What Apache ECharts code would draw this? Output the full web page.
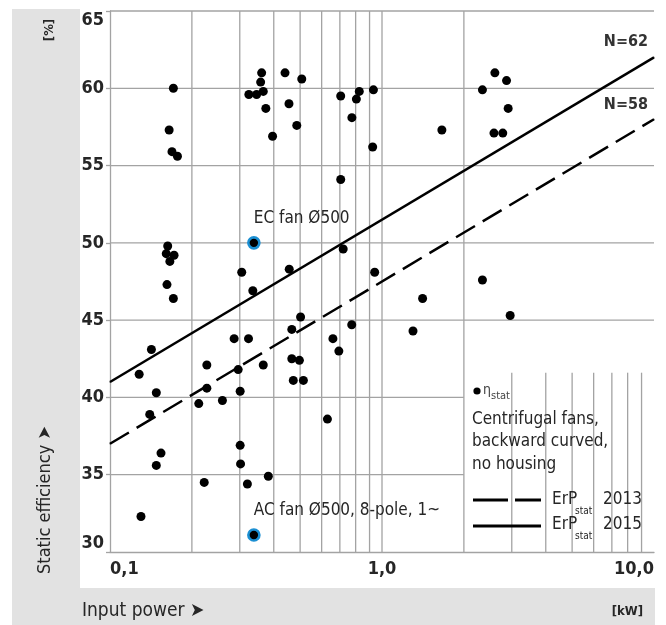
<!DOCTYPE html>
<html><head><meta charset="utf-8">
<script src="https://cdn.jsdelivr.net/npm/echarts@6/dist/echarts.min.js"></script>
<style>html,body{margin:0;padding:0;background:#fff}#c{width:666px;height:625px}</style>
</head><body><div id="c"></div>
<script>
// ---------- data ----------
const fanPower = [
  0.128, 0.142, 0.140, 0.148, 0.154, 0.148, 0.130,
  0.171, 0.165, 0.169, 0.177,
  0.163, 0.161, 0.172, 0.166, 0.162, 0.171,
  0.212, 0.222, 0.227, 0.227, 0.259, 0.286, 0.296, 0.301, 0.301, 0.302, 0.305, 0.320, 0.323, 0.335, 0.366, 0.382,
  0.324, 0.346, 0.358, 0.361, 0.366, 0.374, 0.396, 0.440, 0.455, 0.486, 0.507,
  0.456, 0.466, 0.502, 0.466, 0.497, 0.472, 0.514,
  0.630, 0.660, 0.694, 0.705, 0.720, 0.774, 0.705, 0.775, 0.805, 0.825, 0.930, 0.924, 0.940,
  1.30, 1.41, 1.66, 2.34, 2.34, 2.60, 2.87, 2.91, 2.58, 2.78, 2.96
];
const fanEfficiency = [
  41.5, 43.1, 38.9, 40.3, 36.4, 35.6, 32.3,
  60.0, 57.3, 55.9, 55.6,
  49.8, 49.3, 49.2, 48.8, 47.3, 46.4,
  39.6, 34.5, 42.1, 40.6, 39.8, 43.8, 41.8, 40.4, 36.9, 35.7, 48.1, 34.4, 43.8, 46.9, 42.1, 34.9,
  59.6, 59.6, 60.4, 61.0, 59.8, 58.7, 56.9, 61.0, 59.0, 57.6, 60.6,
  48.3, 44.4, 45.2, 42.5, 42.4, 41.1, 41.1,
  38.6, 43.8, 43.0, 54.1, 49.6, 44.7, 59.5, 58.1, 59.3, 59.8, 59.9, 56.2, 48.1,
  44.3, 46.4, 57.3, 59.9, 47.6, 61.0, 60.5, 58.7, 57.1, 57.1, 45.3
];
const specialPower = [0.338, 0.338];
const specialEfficiency = [50.0, 31.1];
const specialLabels = ['EC fan Ø500', 'AC fan Ø500, 8-pole, 1~'];

const erpPower = [0.1, 10];
const erp2013 = [37, 58];
const erp2015 = [41, 62];
const erpEndLabels = ['N=58', 'N=62'];

const xMin = 0.1, xMax = 10;
const yMin = 30, yMax = 65, yStep = 5;
const xMinorGrid = [0.2, 0.3, 0.4, 0.5, 0.6, 0.7, 0.8, 0.9, 1, 2, 3, 4, 5, 6, 7, 8, 9];
const yGrid = [35, 40, 45, 50, 55, 60, 65];
// legend box (covers grid) corner in data units
const boxPower = 2, boxEfficiency = 41.6;

// ---------- style ----------
const FONT = "'DejaVu Sans Condensed','Liberation Sans Narrow','Roboto Condensed','DejaVu Sans',sans-serif";
const GRID_COLOR = '#a3a3a3';
const TXT = '#262626';

const chart = echarts.init(document.getElementById('c'), null, {renderer: 'canvas'});

function fmtX(v) {
  const r = Math.round(v * 1000) / 1000;
  return r.toFixed(1).replace('.', ',');
}

function endPoint(xs, ys, label) {
  return xs.map((x, i) => i === xs.length - 1
    ? {value: [x, ys[i]], label: {show: true, formatter: label}}
    : {value: [x, ys[i]]});
}

const legendTexts = [];
function t(x, y, text, size, opts) {
  legendTexts.push(Object.assign({
    type: 'text', x: x, y: y, z: 20, silent: true,
    style: Object.assign({text: text, font: (opts && opts.weight ? opts.weight + ' ' : '') + size + 'px ' + FONT,
      fill: TXT, align: 'left', verticalAlign: 'middle'}, opts && opts.style)
  }, opts && opts.el));
}
// legend block
t(483, 390, 'η', 14, {style: {fill: '#444'}});
t(491, 396, 'stat', 11, {style: {fill: '#444'}});
t(472, 420, 'Centrifugal fans,', 17);
t(472, 442, 'backward curved,', 17);
t(472, 465, 'no housing', 17);
t(552, 500, 'ErP', 17);
t(575, 511, 'stat', 10);
t(603, 500, '2013', 17);
t(552, 525, 'ErP', 17);
t(575, 536, 'stat', 10);
t(603, 525, '2015', 17);
// axis titles
t(82, 611, 'Input power ➤', 19);
t(643, 612, '[kW]', 13, {weight: 'bold', style: {align: 'right'}});
t(45, 500, 'Static efficiency ➤', 18, {style: {align: 'center'}, el: {rotation: Math.PI / 2}});
t(50, 30, '[%]', 13, {weight: 'bold', style: {align: 'center'}, el: {rotation: Math.PI / 2}});

const option = {
  animation: false,
  grid: {left: 110, right: 12, top: 11, bottom: 73, containLabel: false},
  xAxis: {
    type: 'log', logBase: 10, min: xMin, max: xMax,
    axisLine: {show: true, lineStyle: {color: GRID_COLOR, width: 1.3}},
    axisTick: {show: false},
    splitLine: {show: false},
    minorTick: {show: false},
    axisLabel: {
      formatter: fmtX, margin: 8, color: TXT, fontSize: 18, fontWeight: 'bold', fontFamily: FONT,
      alignMinLabel: 'left', alignMaxLabel: 'right', showMinLabel: true, showMaxLabel: true
    }
  },
  yAxis: {
    type: 'value', min: yMin, max: yMax, interval: yStep,
    axisLine: {show: true, lineStyle: {color: GRID_COLOR, width: 1.3}},
    axisTick: {show: true, length: 4, lineStyle: {color: GRID_COLOR, width: 1.3}},
    splitLine: {show: false},
    axisLabel: {
      margin: 6, color: TXT, fontSize: 18, fontWeight: 'bold', fontFamily: FONT,
      verticalAlignMinLabel: 'bottom', verticalAlignMaxLabel: 'top'
    }
  },
  graphic: [
    {type: 'rect', silent: true, z: -10, shape: {x: 12, y: 9, width: 643, height: 616}, style: {fill: '#e2e2e2'}},
    {type: 'rect', silent: true, z: -9, shape: {x: 80, y: 0, width: 575, height: 588}, style: {fill: '#ffffff'}},
    {type: 'rect', silent: true, z: 100, shape: {x: 655, y: 0, width: 11, height: 625}, style: {fill: '#ffffff'}},
    {type: 'circle', silent: true, z: 20, shape: {cx: 477, cy: 391, r: 3.6}, style: {fill: '#000'}},
    {type: 'line', silent: true, z: 20, shape: {x1: 473, y1: 500, x2: 508, y2: 500}, style: {stroke: '#000', lineWidth: 3}},
    {type: 'line', silent: true, z: 20, shape: {x1: 515, y1: 500, x2: 541, y2: 500}, style: {stroke: '#000', lineWidth: 3}},
    {type: 'line', silent: true, z: 20, shape: {x1: 473, y1: 526, x2: 541, y2: 526}, style: {stroke: '#000', lineWidth: 3}}
  ].concat(legendTexts),
  series: [
    {
      type: 'custom', silent: true, z: 1, clip: false,
      data: xMinorGrid.map(v => [v, yMin]),
      renderItem: function (params, api) {
        const x = api.value(0);
        const top = x > boxPower ? boxEfficiency : yMax;
        const p1 = api.coord([x, top]);
        const p2 = api.coord([x, yMin]);
        return {type: 'line', shape: {x1: p1[0], y1: p1[1], x2: p2[0], y2: p2[1]},
          style: {stroke: GRID_COLOR, lineWidth: 1.3}};
      }
    },
    {
      type: 'custom', silent: true, z: 1, clip: false,
      data: yGrid.map(v => [xMin, v]),
      renderItem: function (params, api) {
        const y = api.value(1);
        const right = y < boxEfficiency ? boxPower : xMax;
        const p1 = api.coord([xMin, y]);
        const p2 = api.coord([right, y]);
        return {type: 'line', shape: {x1: p1[0], y1: p1[1], x2: p2[0], y2: p2[1]},
          style: {stroke: GRID_COLOR, lineWidth: 1.3}};
      }
    },
    {
      name: 'ErP 2013', type: 'line', z: 3, silent: true,
      data: endPoint(erpPower, erp2013, erpEndLabels[0]),
      symbol: 'circle', symbolSize: 1, showSymbol: true,
      itemStyle: {color: '#000'},
      lineStyle: {color: '#000', width: 2.5, type: [22, 9]},
      label: {show: false, position: 'top', align: 'right', distance: 6, offset: [-6, 0],
        fontSize: 16, fontWeight: 'bold', color: '#333', fontFamily: FONT}
    },
    {
      name: 'ErP 2015', type: 'line', z: 3, silent: true,
      data: endPoint(erpPower, erp2015, erpEndLabels[1]),
      symbol: 'circle', symbolSize: 1, showSymbol: true,
      itemStyle: {color: '#000'},
      lineStyle: {color: '#000', width: 2.5, type: 'solid'},
      label: {show: false, position: 'top', align: 'right', distance: 7, offset: [-6, 0],
        fontSize: 16, fontWeight: 'bold', color: '#333', fontFamily: FONT}
    },
    {
      name: 'ηstat', type: 'scatter', z: 4, silent: true,
      data: fanPower.map((p, i) => [p, fanEfficiency[i]]),
      symbol: 'circle', symbolSize: 9,
      itemStyle: {color: '#000', opacity: 1}
    },
    {
      name: 'special', type: 'scatter', z: 5, silent: true,
      data: specialPower.map((p, i) => [p, specialEfficiency[i]]),
      symbol: 'circle', symbolSize: 11,
      itemStyle: {color: '#000', borderColor: '#1b8fd2', borderWidth: 2.6, opacity: 1},
      label: {show: true, position: 'top', align: 'left', distance: 9,
        formatter: p => specialLabels[p.dataIndex],
        fontSize: 17, color: TXT, fontFamily: FONT}
    }
  ]
};
chart.setOption(option);
</script>
</body></html>
